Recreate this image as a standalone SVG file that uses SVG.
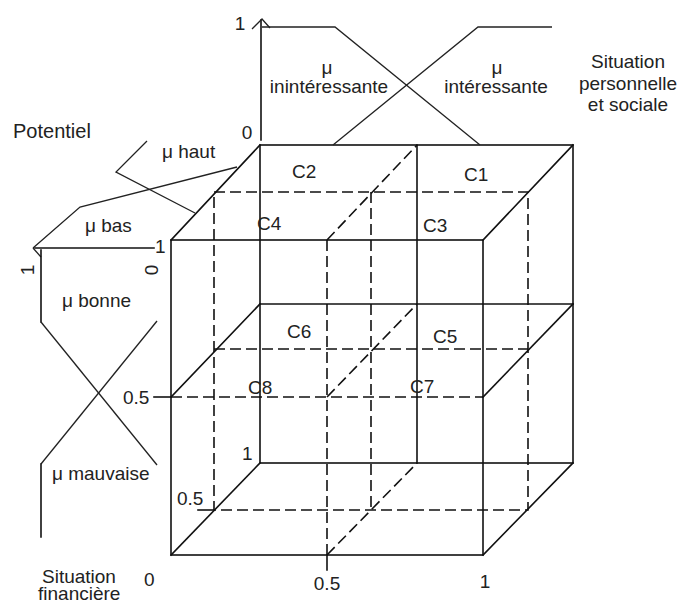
<svg xmlns="http://www.w3.org/2000/svg" width="685" height="603" viewBox="0 0 685 603">
<style>
.s{stroke:#111;stroke-width:1.6;fill:none;stroke-linecap:square}
.d{stroke:#111;stroke-width:1.6;fill:none;stroke-dasharray:11 5}
.m{stroke:#222;stroke-width:1.3;fill:none}
text{font-family:"Liberation Sans",Arial,sans-serif;font-size:19px;fill:#222}
.c{text-anchor:middle}
</style>
<rect width="685" height="603" fill="#fff"/>
<g id="cube">
  <rect class="s" x="260" y="145" width="313" height="318"/>
  <line class="s" x1="417" y1="145" x2="417" y2="463"/>
  <line class="s" x1="260" y1="304" x2="573" y2="304"/>
  <rect class="s" x="171" y="240" width="312" height="315"/>
  <line class="d" x1="171" y1="397" x2="483" y2="397"/>
  <line class="d" x1="327" y1="240" x2="327" y2="555"/>
  <line class="s" x1="154" y1="397" x2="171" y2="397"/>
  <line class="s" x1="327" y1="555" x2="327" y2="570"/>
  <line class="s" x1="171" y1="240" x2="260" y2="145"/>
  <line class="s" x1="483" y1="240" x2="573" y2="145"/>
  <line class="s" x1="171" y1="397" x2="260" y2="304"/>
  <line class="s" x1="483" y1="397" x2="573" y2="304"/>
  <line class="s" x1="171" y1="555" x2="260" y2="463"/>
  <line class="s" x1="483" y1="555" x2="573" y2="463"/>
  <line class="d" x1="327" y1="240" x2="417" y2="145"/>
  <line class="d" x1="327" y1="397" x2="417" y2="304"/>
  <line class="d" x1="327" y1="555" x2="417" y2="463"/>
  <rect class="d" x="214" y="192" width="314" height="318"/>
  <line class="d" x1="371" y1="192" x2="371" y2="510"/>
  <line class="d" x1="214" y1="349" x2="528" y2="349"/>
  <line class="s" x1="198" y1="510" x2="214" y2="510"/>
</g>
<g id="chart-personnelle">
  <line class="s" x1="261" y1="20" x2="261" y2="140"/>
  <polyline class="m" points="252,29 262,19 270,28"/>
  <polyline class="m" points="262,27 335,27 480,145"/>
  <polyline class="m" points="333,145 478,27 552,27"/>
</g>
<g id="chart-potentiel">
  <polyline class="m" points="147,141 116,172 195,213"/>
  <polyline class="m" points="33,248 80,207 237,167"/>
  <line class="s" x1="35" y1="248" x2="154" y2="248"/>
  <line class="m" x1="33" y1="248" x2="41" y2="257"/>
</g>
<g id="chart-financiere">
  <polyline class="s" points="41,250 41,322"/>
  <polyline class="m" points="41,322 157,465"/>
  <polyline class="m" points="157,321 41,464"/>
  <polyline class="s" points="41,464 41,537"/>
</g>
<g id="labels">
  <text x="240" y="30" class="c">1</text>
  <text x="247" y="139" class="c">0</text>
  <text x="327" y="74" class="c">μ</text>
  <text x="329" y="93" class="c">inintéressante</text>
  <text x="497" y="74" class="c">μ</text>
  <text x="496" y="93" class="c">intéressante</text>
  <text x="628" y="68" class="c">Situation</text>
  <text x="628" y="90" class="c">personnelle</text>
  <text x="628" y="111" class="c">et sociale</text>
  <text x="13" y="138" style="font-size:20px">Potentiel</text>
  <text x="162" y="158">μ haut</text>
  <text x="85" y="232">μ bas</text>
  <text x="155" y="253">1</text>
  <text transform="translate(34,270) rotate(-90)" class="c">1</text>
  <text transform="translate(158,270) rotate(-90)" class="c">0</text>
  <text x="62" y="307">μ bonne</text>
  <text x="123" y="404">0.5</text>
  <text x="52" y="480">μ mauvaise</text>
  <text x="177" y="505">0.5</text>
  <text x="242" y="460">1</text>
  <text x="42" y="583">Situation</text>
  <text x="38" y="600">financière</text>
  <text x="144" y="586">0</text>
  <text x="327" y="590" class="c">0.5</text>
  <text x="485" y="588" class="c">1</text>
  <text x="292" y="178">C2</text>
  <text x="464" y="181">C1</text>
  <text x="257" y="230">C4</text>
  <text x="423" y="232">C3</text>
  <text x="287" y="338">C6</text>
  <text x="433" y="343">C5</text>
  <text x="248" y="394">C8</text>
  <text x="410" y="393">C7</text>
</g>
</svg>
